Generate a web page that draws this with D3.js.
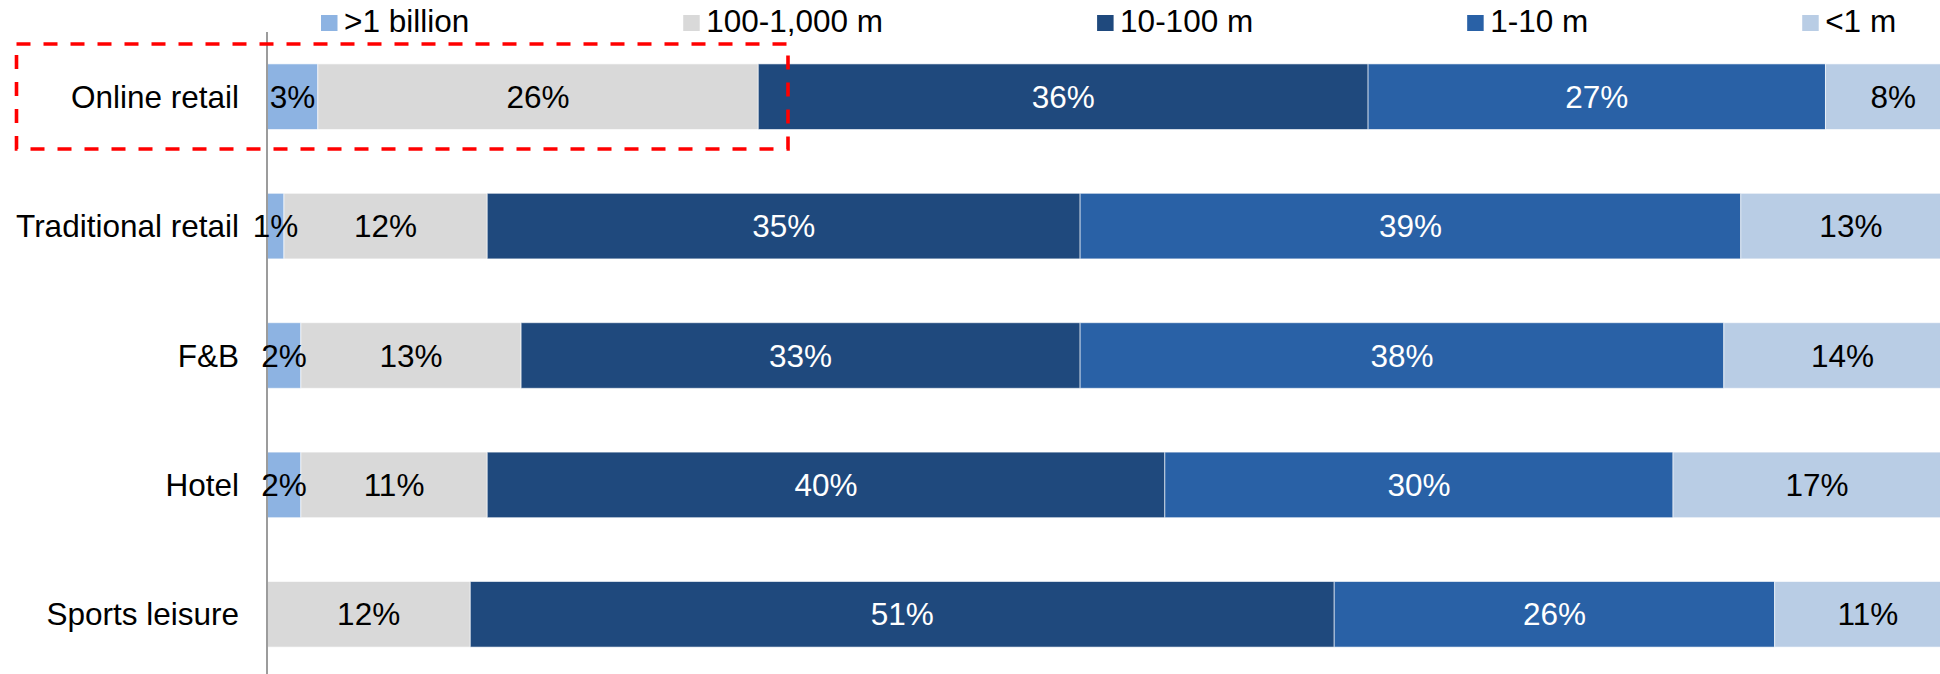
<!DOCTYPE html>
<html>
<head>
<meta charset="utf-8">
<script src="https://cdnjs.cloudflare.com/ajax/libs/d3/7.8.5/d3.min.js"></script>
<style>
  body { margin: 0; background: #fff; }
  text { font-family: "Liberation Sans", Arial, sans-serif; font-size: 31.5px; }
</style>
</head>
<body>
<script>
/***Data***/
var categories = ["Online retail", "Traditional retail", "F&B", "Hotel", "Sports leisure"];
var seriesNames = [">1 billion", "100-1,000 m", "10-100 m", "1-10 m", "<1 m"];
var over1b = [3, 1, 2, 2, 0];
var m100to1000 = [26, 12, 13, 11, 12];
var m10to100 = [36, 35, 33, 40, 51];
var m1to10 = [27, 39, 38, 30, 26];
var under1m = [8, 13, 14, 17, 11];

var colors = ["#8DB3E2", "#D9D9D9", "#1F497D", "#2961A6", "#B9CDE5"];
var labelColors = ["#000", "#000", "#fff", "#fff", "#000"];

//Width, Height
var w = 1940, h = 674;
var axisX = 267;

var seriesValues = [over1b, m100to1000, m10to100, m1to10, under1m];
var rows = categories.map(function(c, i) {
  var r = {cat: c};
  seriesNames.forEach(function(s, j) { r[s] = seriesValues[j][i]; });
  return r;
});

/***Draw SVG***/
var svg = d3.select("body")
            .append("svg")
            .attr("width", w)
            .attr("height", h);

/***Scales***/
var xScale = d3.scaleLinear()
               .domain([0, 100])
               .range([axisX, axisX + 1694]);   // last segment runs off the right edge
var yScale = d3.scaleBand()
               .domain(categories)
               .range([32, 679])
               .paddingInner(0.493)
               .paddingOuter(0.2465);

var stacked = d3.stack().keys(seriesNames)(rows);

/***Draw bars***/
var layers = svg.selectAll("g.layer")
  .data(stacked)
  .enter().append("g")
    .attr("class", "layer")
    .attr("fill", function(d, i) { return colors[i]; });

layers.selectAll("rect")
  .data(function(d) { return d; })
  .enter().append("rect")
    .attr("x", function(d) { return xScale(d[0]); })
    .attr("y", function(d) { return yScale(d.data.cat); })
    .attr("width", function(d) { return xScale(d[1]) - xScale(d[0]); })
    .attr("height", yScale.bandwidth())
    .attr("stroke", "#fff")
    .attr("stroke-width", 1)
    .attr("stroke-opacity", 0.6);

/***Axis line***/
var yAxis = d3.axisLeft(yScale).tickSize(0).tickPadding(28);
var ax = svg.append("g")
  .attr("class", "yaxis")
  .attr("transform", "translate(" + axisX + ",0)")
  .call(yAxis);
ax.select(".domain").remove();
ax.selectAll("text")
  .attr("fill", "#000")
  .style("font-family", "'Liberation Sans', Arial, sans-serif")
  .style("font-size", "31.5px")
  .attr("dy", "0.35em");
svg.append("line")
  .attr("x1", axisX).attr("x2", axisX)
  .attr("y1", 32).attr("y2", h)
  .attr("stroke", "#9C9C9C")
  .attr("stroke-width", 2);

/***Value labels (on top of every bar)***/
var labelData = [];
stacked.forEach(function(layer, i) {
  layer.forEach(function(p) {
    if (p[1] - p[0] > 0) labelData.push({lo: p[0], hi: p[1], cat: p.data.cat, si: i});
  });
});
svg.append("g")
  .attr("class", "labels")
  .selectAll("text")
  .data(labelData)
  .enter().append("text")
    .attr("x", function(d) { return (xScale(d.lo) + xScale(d.hi)) / 2; })
    .attr("y", function(d) { return yScale(d.cat) + yScale.bandwidth() / 2; })
    .attr("dy", "0.35em")
    .attr("text-anchor", "middle")
    .attr("fill", function(d) { return labelColors[d.si]; })
    .text(function(d) { return (d.hi - d.lo) + "%"; });

/***Legend***/
var legend = svg.append("g").attr("class", "legend");
var lx = 321;
seriesNames.forEach(function(s, i) {
  legend.append("rect")
    .attr("x", lx).attr("y", 15)
    .attr("width", 16.5).attr("height", 16)
    .attr("fill", colors[i]);
  var t = legend.append("text")
    .attr("x", lx + 23).attr("y", 31.7)
    .attr("fill", "#000")
    .text(s);
  lx += 23 + t.node().getComputedTextLength() + 214;
});

/***Highlight box***/
svg.append("rect")
  .attr("x", 16.5).attr("y", 44)
  .attr("width", 788 - 16.5).attr("height", 149 - 44)
  .attr("fill", "none")
  .attr("stroke", "#FF0000")
  .attr("stroke-width", 3.6)
  .attr("stroke-dasharray", "14,13");
</script>
</body>
</html>
